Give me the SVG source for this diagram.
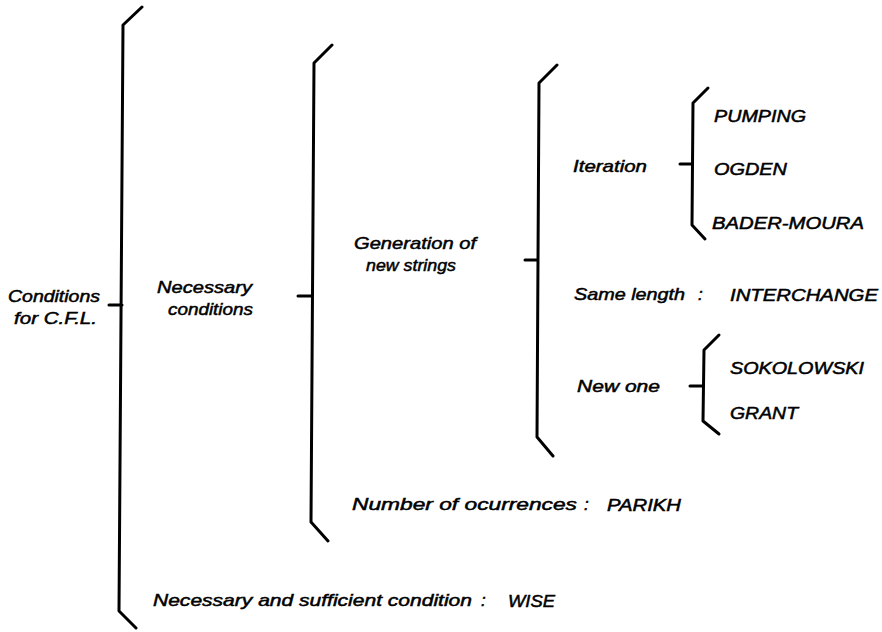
<svg xmlns="http://www.w3.org/2000/svg" width="882" height="632" viewBox="0 0 882 632">
<style>
text{font-family:"Liberation Sans",Arial,sans-serif;font-style:italic;font-size:17px;fill:#000;stroke:#000;stroke-width:0.5}
.br{fill:none;stroke:#000;stroke-width:3;stroke-linejoin:round;stroke-linecap:round}
</style>
<rect width="882" height="632" fill="#fff"/>
<g id="connectors">
<path class="br" d="M142,7 L123,25 L119,611 L136,628 M109,305 L122,305"/>
<path class="br" d="M332,45 L314,63 L311,522 L328,541 M298,296 L312,296"/>
<path class="br" d="M557,65 L539,83 L537,437 L553,456 M525,260 L538,260"/>
<path class="br" d="M708,88 L693,103 L692,225 L705,239 M680,164 L692,164"/>
<path class="br" d="M719,335 L704,350 L703,421 L719,434 M690,386 L703,386"/>
</g>
<g id="n-cfl"><text x="8" y="302" textLength="92" lengthAdjust="spacingAndGlyphs">Conditions</text><text x="14" y="324" textLength="83" lengthAdjust="spacingAndGlyphs">for  C.F.L.</text></g>
<g id="n-necessary"><text x="157" y="293" textLength="95" lengthAdjust="spacingAndGlyphs">Necessary</text><text x="168" y="315" textLength="85" lengthAdjust="spacingAndGlyphs">conditions</text></g>
<g id="n-generation"><text x="354" y="249" textLength="122" lengthAdjust="spacingAndGlyphs">Generation of</text><text x="366" y="271" textLength="90" lengthAdjust="spacingAndGlyphs">new strings</text></g>
<g id="n-iteration"><text x="573" y="172" textLength="74" lengthAdjust="spacingAndGlyphs">Iteration</text></g>
<g id="n-pumping"><text x="714" y="122" textLength="92" lengthAdjust="spacingAndGlyphs">PUMPING</text></g>
<g id="n-ogden"><text x="714" y="175" textLength="73" lengthAdjust="spacingAndGlyphs">OGDEN</text></g>
<g id="n-bader"><text x="712" y="229" textLength="152" lengthAdjust="spacingAndGlyphs">BADER-MOURA</text></g>
<g id="n-samelength"><text x="574" y="300" textLength="111" lengthAdjust="spacingAndGlyphs">Same length</text><text x="698" y="300">:</text><text x="730" y="301" textLength="148" lengthAdjust="spacingAndGlyphs">INTERCHANGE</text></g>
<g id="n-newone"><text x="577" y="392" textLength="83" lengthAdjust="spacingAndGlyphs">New  one</text></g>
<g id="n-sokolowski"><text x="730" y="374" textLength="134" lengthAdjust="spacingAndGlyphs">SOKOLOWSKI</text></g>
<g id="n-grant"><text x="730" y="419" textLength="68" lengthAdjust="spacingAndGlyphs">GRANT</text></g>
<g id="n-parikh"><text x="352" y="510" textLength="225" lengthAdjust="spacingAndGlyphs">Number  of  ocurrences</text><text x="584" y="510">:</text><text x="607" y="511" textLength="74" lengthAdjust="spacingAndGlyphs">PARIKH</text></g>
<g id="n-wise"><text x="153" y="606" textLength="319" lengthAdjust="spacingAndGlyphs">Necessary and sufficient condition</text><text x="481" y="606">:</text><text x="508" y="607" textLength="47" lengthAdjust="spacingAndGlyphs">WISE</text></g>
</svg>
